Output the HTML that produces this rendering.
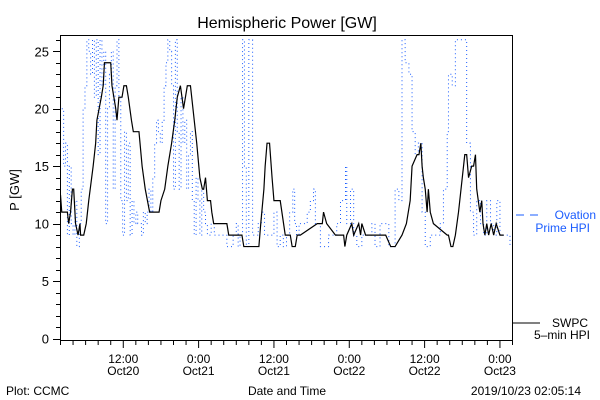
<!DOCTYPE html>
<html><head><meta charset="utf-8"><style>
body{margin:0;background:#fff}
svg{display:block;font-family:"Liberation Sans",sans-serif}
</style></head><body>
<svg id="chart" width="600" height="400" viewBox="0 0 600 400">
<rect x="0" y="0" width="600" height="400" fill="#fff"/>
<text x="287" y="28" text-anchor="middle" font-size="16">Hemispheric Power [GW]</text>
<text transform="translate(19,190) rotate(-90)" text-anchor="middle" font-size="13">P [GW]</text>
<text x="287" y="395" text-anchor="middle" font-size="12">Date and Time</text>
<text x="6" y="395" font-size="12">Plot: CCMC</text>
<text x="581" y="395" text-anchor="end" font-size="12">2019/10/23 02:05:14</text>
<g>
<line x1="516" y1="215" x2="540" y2="215" stroke="#1a5cff" stroke-dasharray="8,6"/>
<text x="596" y="219" text-anchor="end" font-size="12" fill="#1a5cff">Ovation</text>
<text x="590" y="232" text-anchor="end" font-size="12" fill="#1a5cff">Prime HPI</text>
</g>
<g>
<line x1="512" y1="323" x2="540" y2="323" stroke="#000"/>
<text x="588" y="327" text-anchor="end" font-size="12">SWPC</text>
<text x="590" y="339" text-anchor="end" font-size="12">5–min HPI</text>
</g>
<g id="axes"></g>
<g id="series"></g>
<rect x="60.5" y="35.5" width="452" height="305" fill="none" stroke="#000"/>
</svg>
<script>
const yTicks=[0,5,10,15,20,25];
const xTickHours=[10,22,34,46,58,70];
const xTickLabels1=["12:00","0:00","12:00","0:00","12:00","0:00"];
const xTickLabels2=["Oct20","Oct21","Oct21","Oct22","Oct22","Oct23"];
const swpcHours=[0,0.2,0.3,1.1,1.3,1.6,1.9,2.1,2.4,2.8,3.1,3.2,3.7,4.1,4.5,5.2,5.6,5.8,6.5,6.8,7.0,8.0,8.2,8.8,9.0,9.3,9.8,10.1,10.5,10.8,11.3,11.6,12.5,13.0,13.5,14.2,15.7,16.0,16.6,17.1,17.7,18.2,18.6,19.1,19.6,20.2,20.7,21.1,21.7,22.2,22.6,22.8,23.1,23.4,23.9,24.1,24.4,26.5,26.8,28.9,29.2,31.6,31.9,32.4,32.6,32.9,33.3,33.7,34.0,35.0,35.8,36.6,36.9,37.4,37.7,38.2,40.9,41.7,41.9,42.4,43.8,45.1,45.3,45.6,46.4,46.7,47.5,47.8,48.0,48.6,51.8,52.6,53.3,54.4,55.1,55.7,56.0,56.8,57.1,57.4,57.6,57.8,58.1,58.4,58.6,58.9,59.4,61.6,61.8,62.2,62.5,62.9,63.4,64.0,64.4,64.7,65.0,65.5,65.8,66.1,66.3,66.8,67.1,67.3,67.6,67.9,68.2,68.6,69.0,69.4,70.0,70.6];
const swpcValues=[12.5,11,11,11,10,11,13,13,10,9,10,9,9,10,12,15,17,19,21,22,24,24,22,20,19,21,21,22,22,21,19,18,18,15,13,11,11,12,13,15,17,19,21,22,20,22,22,20,17,14,13,13,14,12,12,11,10,10,9,9,8,8,10,13,15,17,17,14,12,12,9,9,8,8,9,9,10,10,11,10,9,9,8,9,10,9,10,9,10,9,9,8,8,9,10,12,15,16,16,17,15,14,13,11,13,11,10,9,9,8,8,9,11,14,16,16,14,15,15,16,13,11,12,10,9,10,9,10,9,10,9,9];
const ovHours=[0.2,0.5,0.8,1.1,1.4,1.7,2.0,2.3,2.6,3.0,3.3,3.6,3.9,4.2,4.5,4.8,5.1,5.4,5.7,6.0,6.3,6.6,6.9,7.2,7.5,7.8,8.1,8.4,8.7,9.0,9.3,9.6,9.9,10.2,10.5,10.8,11.1,11.4,11.7,12.0,12.3,12.6,12.9,13.2,13.5,13.8,14.1,14.4,14.7,15.0,15.3,15.6,15.9,16.2,16.5,16.8,17.1,17.4,17.7,18.0,18.3,18.6,18.9,19.2,19.5,19.8,20.1,20.4,20.7,21.0,21.3,21.6,21.9,22.2,22.5,22.8,23.1,23.4,23.7,24.0,24.5,25.0,25.5,26.0,26.5,27.0,27.5,28.0,28.3,28.6,29.0,29.3,29.6,30.0,30.3,30.6,31.0,31.5,32.0,32.5,33.0,33.5,34.0,34.5,35.0,35.5,36.0,36.5,37.0,37.3,37.6,38.0,38.7,39.3,39.8,40.3,40.6,41.4,41.9,42.7,43.5,44.0,44.6,45.4,45.6,46.2,46.7,47.2,48.0,48.8,49.6,50.1,50.9,52.3,53.3,53.9,54.4,54.9,55.5,56.0,56.5,57.0,57.6,58.1,58.9,59.7,60.5,61.0,61.6,61.8,62.4,62.9,63.4,64.2,64.7,65.3,65.8,66.3,66.9,67.4,67.9,68.5,69.0,69.5,70.0,70.8,71.6];
const ovValues=[20,15,17,9,15,10,9,12,8,10,13,20,22,26,25,23,26,21,26,16,26,22,25,10,20,23,25,13,22,26,21,12,9,18,12,17,9,12,10,11,10,10,9,11,10,11,13,11,14,17,19,18,17,19,22,24,26,25,22,13,26,18,13,21,17,19,13,16,18,12,9,14,12,9,13,11,10,9,9,10,9,9,9,9,8,8,9,10,8,9,26,15,8,26,26,9,9,10,11,9,9,9,11,8,9,8,9,11,13,10,9,10,10,11,12,13,10,8,8,9,9,10,12,15,10,13,9,8,9,9,10,8,10,8,13,12,26,24,23,18,16,17,11,8,9,9,10,13,18,23,22,26,26,26,17,11,9,12,10,9,12,10,9,12,9,9,8];
const X0=60.5,X1=512.5,Y0=340.5,YT=35.5,HMAX=72;
function xs(h){return X0+h/HMAX*(X1-X0);}
function ys(v){return 338.5-v*11.49;}
const NS="http://www.w3.org/2000/svg";
const axes=document.getElementById('axes'),series=document.getElementById('series');
function mk(tag,attrs,parent){const e=document.createElementNS(NS,tag);for(const k in attrs)e.setAttribute(k,attrs[k]);parent.appendChild(e);return e;}
for(let v=0;v<=26;v++){
 const y=Math.round(ys(v))+0.5;const major=yTicks.includes(v);
 const t=mk('line',{x1:major?53:56,x2:60.5,y1:y,y2:y,stroke:'#000'},axes);
 
 
}
yTicks.forEach(v=>{const t=mk('text',{x:49,y:ys(v)+5,'text-anchor':'end','font-size':13},axes);t.textContent=v;
 
 });
for(let h=0;h<=72;h+=2){
 const major=xTickHours.includes(h);const x=xs(h);
 const t=mk('line',{x1:x,x2:x,y1:340.5,y2:major?348:345,stroke:'#000'},axes);
 
 
}
xTickHours.forEach((h,i)=>{
 const a=mk('text',{x:xs(h),y:363,'text-anchor':'middle','font-size':12},axes);a.textContent=xTickLabels1[i];
 
 
 const b=mk('text',{x:xs(h),y:375,'text-anchor':'middle','font-size':12},axes);b.textContent=xTickLabels2[i];
 
 
});
const clip=mk('clipPath',{id:'pc'},series);mk('rect',{x:X0,y:YT,width:X1-X0,height:Y0-YT},clip);
function stepPath(hs,vs){let d='M'+xs(hs[0])+','+ys(vs[0]);for(let i=1;i<hs.length;i++){d+=' H'+xs(hs[i])+' V'+ys(vs[i]);}return d;}
function linePath(hs,vs){let d='M'+xs(hs[0])+','+ys(vs[0]);for(let i=1;i<hs.length;i++){d+=' L'+xs(hs[i])+','+ys(vs[i]);}return d;}
const ov=mk('path',{d:stepPath(ovHours,ovValues),fill:'none',stroke:'#1a5cff','stroke-width':1,'stroke-dasharray':'1,3','clip-path':'url(#pc)'},series);


const sw=mk('path',{d:linePath(swpcHours,swpcValues),fill:'none',stroke:'#000','stroke-width':1.2,'clip-path':'url(#pc)'},series);


</script>
</body></html>
